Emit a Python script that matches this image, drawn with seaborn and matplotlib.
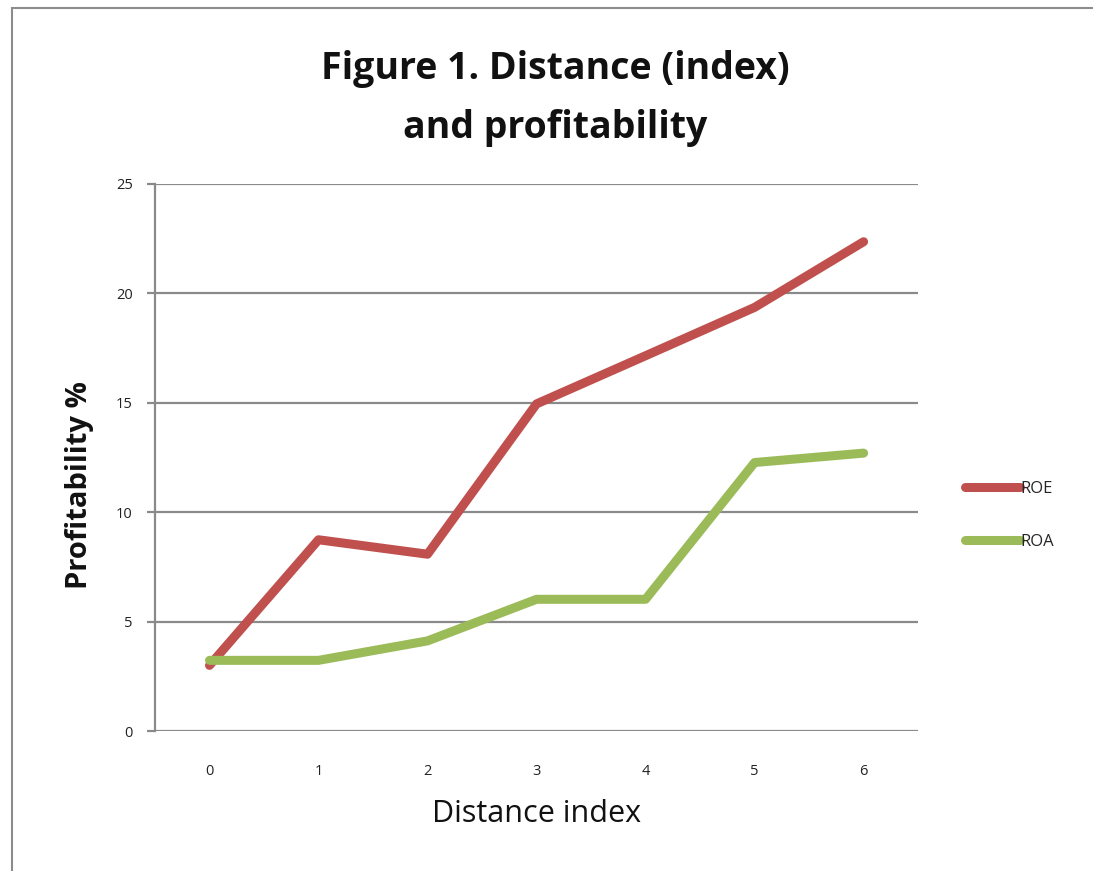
import matplotlib
matplotlib.use("Agg")
import matplotlib.pyplot as plt
import seaborn as sns
import pandas as pd
from matplotlib.patches import Rectangle
from matplotlib.lines import Line2D

distance = [0, 1, 2, 3, 4, 5, 6]
roe = [3.0, 8.74, 8.08, 14.95, 17.15, 19.36, 22.36]
roa = [3.23, 3.23, 4.12, 6.02, 6.02, 12.27, 12.70]
series_names = ["ROE", "ROA"]
colors = ["#C0504D", "#9BBB59"]

df = pd.DataFrame({
    "Distance": distance * 2,
    "Value": roe + roa,
    "Series": ["ROE"] * len(distance) + ["ROA"] * len(distance),
})

sns.set_theme(style="white")
plt.rcParams['font.family'] = ['Open Sans', 'DejaVu Sans']

fig = plt.figure(figsize=(10.93, 8.71), dpi=100)
ax = fig.add_axes([0.1418, 0.1607, 0.840 - 0.1418, 0.7888 - 0.1607])

# outer chart frame
fig.patches.append(Rectangle((12 / 1093, -0.05), 1.2, 1 - 8 / 871 + 0.05,
                             transform=fig.transFigure, fill=False,
                             edgecolor="#8c8c8c", linewidth=1.5))

sns.lineplot(data=df, x="Distance", y="Value", hue="Series",
             hue_order=series_names, palette=colors, linewidth=6.5,
             ax=ax, legend=False, solid_capstyle="round", sort=False)

ax.set_xlim(-0.5, 6.5)
ax.set_ylim(0, 25)
ax.set_yticks([0, 5, 10, 15, 20, 25])
ax.set_xticks(distance)
ax.yaxis.grid(True, color="#8a8a8a", linewidth=1.6)
ax.xaxis.grid(False)
for s in ["top", "right"]:
    ax.spines[s].set_visible(False)
ax.spines["bottom"].set_visible(False)
ax.spines["left"].set_color("#8a8a8a")
ax.spines["left"].set_linewidth(1.6)
ax.tick_params(axis="y", direction="out", length=6, width=1.6, color="#8a8a8a",
               left=True, labelsize=10.5, labelcolor="#222222", pad=10)
ax.tick_params(axis="x", length=0, labelsize=10.5, labelcolor="#222222", pad=24)

ax.set_xlabel("Distance index", fontsize=22, color="#111111")
ax.xaxis.set_label_coords(0.5, -0.125)
ax.set_ylabel("Profitability %", fontsize=21, fontweight="bold",
              color="#111111")
ax.yaxis.set_label_coords(-0.08, 0.45)

fig.text(0.508, 0.887, "Figure 1. Distance (index)\nand profitability",
         ha="center", va="center", fontsize=27, fontweight="bold",
         color="#111111", linespacing=1.72)

handles = [Line2D([0], [0], color=c, linewidth=6.5, solid_capstyle="round")
           for c in colors]
leg = fig.legend(handles, series_names, loc="center left",
                 bbox_to_anchor=(0.869, 0.408), frameon=False, fontsize=12,
                 handlelength=3.3, handletextpad=0.05, labelspacing=2.2)

fig.savefig("out.png", dpi=100)
